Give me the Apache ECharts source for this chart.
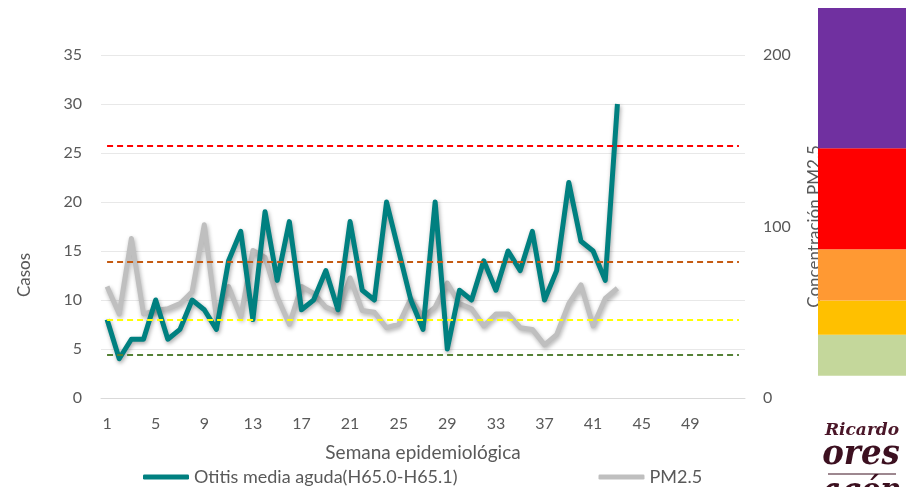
<!DOCTYPE html>
<html>
<head>
<meta charset="utf-8">
<script src="https://cdn.jsdelivr.net/npm/echarts@6/dist/echarts.min.js"></script>
<style>
  html, body { margin: 0; padding: 0; background: #fff; }
  #chart { width: 906px; height: 487px; }
</style>
</head>
<body>
<div id="chart"></div>
<script>
// semanas epidemiológicas 1..53
const semanas = Array.from({ length: 53 }, (_, i) => String(i + 1));

// casos semanales de otitis media aguda
const otitis = [8, 4, 6, 6, 10, 6, 7, 10, 9, 7, 14, 17, 8, 19, 12, 18, 9, 10, 13, 9,
  18, 11, 10, 20, 15, 10, 7, 20, 5, 11, 10, 14, 11, 15, 13, 17, 10, 13, 22, 16, 15, 12, 30];

// concentración PM2.5 (eje derecho)
const pm25 = [65, 49, 93, 49, 51, 52, 55, 62, 101, 47, 65, 47, 86, 82, 59, 43, 65, 61, 53, 50,
  70, 51, 50, 41, 43, 58, 47, 53, 67, 55, 52, 42, 49, 49, 41, 40, 31, 37, 55, 66, 42, 58, 64];

// líneas de referencia (casos)
const umbrales = [25.7, 13.9, 8.0, 4.4];
const umbralColores = ["#ff0000", "#c55a11", "#ffff00", "#548235"];

// barra de colores de calidad del aire
const bandaLimites = [13, 37, 57, 87, 146, 228];
const bandaColores = ["#c4d79b", "#ffc000", "#ff9933", "#ff0000", "#7030a0"];

const textColor = "#595959";
const font = "Lato";

const chart = echarts.init(document.getElementById("chart"));

const bandSeries = [
  {
    type: "bar", xAxisIndex: 1, yAxisIndex: 2, stack: "banda",
    barWidth: "100%", silent: true,
    itemStyle: { color: "rgba(0,0,0,0)" },
    data: [bandaLimites[0]],
  },
];
for (let i = 0; i < bandaColores.length; i++) {
  bandSeries.push({
    type: "bar", xAxisIndex: 1, yAxisIndex: 2, stack: "banda",
    barWidth: "100%", silent: true,
    itemStyle: { color: bandaColores[i] },
    data: [bandaLimites[i + 1] - bandaLimites[i]],
  });
}

const option = {
  animation: false,
  textStyle: { fontFamily: font },
  grid: [
    { left: 101, right: 161, top: 55, bottom: 89 },
    { left: 818, right: 0, top: 8, bottom: 89 },
  ],
  legend: {
    left: 143,
    top: 468,
    padding: 0,
    itemGap: 141,
    itemWidth: 46,
    itemHeight: 5,
    icon: "roundRect",
    textStyle: { fontSize: 18, color: textColor, fontFamily: font },
    data: ["Otitis media aguda(H65.0-H65.1)", "PM2.5"],
  },
  xAxis: [
    {
      type: "category",
      data: semanas,
      axisLine: { lineStyle: { color: "#d9d9d9" } },
      axisTick: { show: false },
      axisLabel: {
        color: textColor, fontSize: 16, margin: 18,
        interval: (idx) => idx % 4 === 0 && idx < 52,
      },
      name: "Semana epidemiológica",
      nameLocation: "middle",
      nameGap: 45,
      nameTextStyle: { color: textColor, fontSize: 19 },
    },
    { type: "category", gridIndex: 1, data: ["b"], show: false },
  ],
  yAxis: [
    {
      type: "value",
      min: 0, max: 35, interval: 5,
      axisLine: { show: false },
      axisTick: { show: false },
      axisLabel: { color: textColor, fontSize: 16, margin: 19 },
      splitLine: { lineStyle: { color: "#e8e8e8" } },
    },
    {
      type: "value",
      position: "right",
      min: 0, max: 200, interval: 100,
      axisLine: { show: false },
      axisTick: { show: false },
      splitLine: { show: false },
      axisLabel: { color: textColor, fontSize: 16, margin: 18 },
      name: "Concentración PM2.5",
      nameLocation: "middle",
      nameRotate: 90,
      nameGap: 61,
      nameTextStyle: { color: textColor, fontSize: 17 },
    },
    { type: "value", gridIndex: 1, min: 0, max: 228, show: false },
  ],
  graphic: [
    {
      type: "text", x: 25, y: 275, rotation: Math.PI / 2,
      style: { text: "Casos", fill: textColor, font: "17px Lato", align: "center", verticalAlign: "middle" },
    },
    {
      type: "text", x: 862, y: 431,
      style: { text: "Ricardo", fill: "#4a1628", font: "italic bold 17px 'DejaVu Serif'", align: "center", verticalAlign: "middle" },
    },
    {
      type: "text", x: 861, y: 455,
      style: { text: "ores", fill: "#3c1020", font: "italic bold 36px 'DejaVu Serif Condensed', 'DejaVu Serif'", align: "center", verticalAlign: "middle" },
    },
    {
      type: "line", shape: { x1: 828, y1: 474, x2: 896, y2: 474 },
      style: { stroke: "#3c1020", lineWidth: 1 },
    },
    {
      type: "text", x: 862, y: 492,
      style: { text: "agón", fill: "#3c1020", font: "italic bold 32px 'DejaVu Serif Condensed', 'DejaVu Serif'", align: "center", verticalAlign: "middle" },
    },
  ],
  series: [
    {
      name: "PM2.5",
      type: "line",
      yAxisIndex: 1,
      data: pm25,
      symbol: "none",
      z: 3,
      itemStyle: { color: "#bfbfbf" },
      lineStyle: {
        color: "#bfbfbf", width: 5, join: "round",
        shadowColor: "rgba(0,0,0,0.3)", shadowBlur: 4, shadowOffsetX: 1, shadowOffsetY: 2,
      },
    },
    {
      name: "Otitis media aguda(H65.0-H65.1)",
      type: "line",
      yAxisIndex: 0,
      data: otitis,
      symbol: "none",
      z: 4,
      itemStyle: { color: "#008080" },
      lineStyle: {
        color: "#008080", width: 5, join: "round",
        shadowColor: "rgba(0,0,0,0.35)", shadowBlur: 4, shadowOffsetX: 1, shadowOffsetY: 2,
      },
      markLine: {
        silent: true,
        symbol: "none",
        label: { show: false },
        data: umbrales.map((v, i) => [
          { coord: [semanas[0], v], lineStyle: { color: umbralColores[i], type: [6, 4], width: 2 } },
          { coord: [semanas[semanas.length - 1], v] },
        ]),
      },
    },
    ...bandSeries,
  ],
};

chart.setOption(option);
</script>
</body>
</html>
